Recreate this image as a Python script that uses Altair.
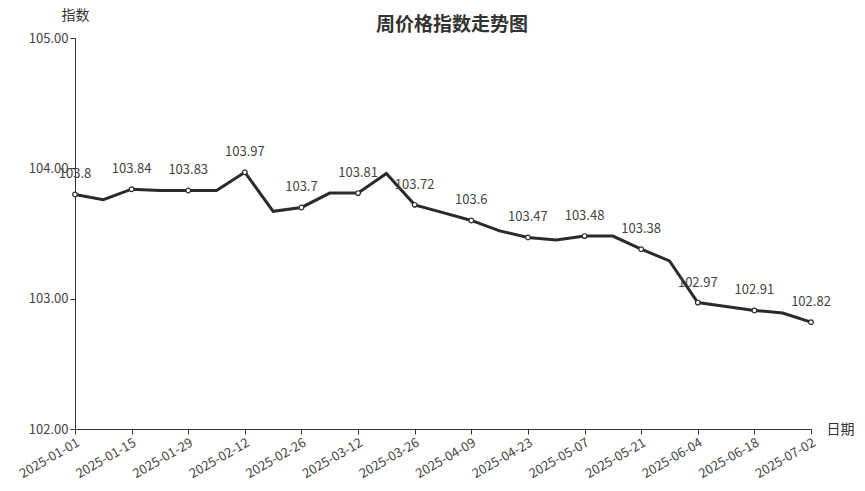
import altair as alt
import pandas as pd

dates = ["2025-01-01","2025-01-08","2025-01-15","2025-01-22","2025-01-29","2025-02-05","2025-02-12",
         "2025-02-19","2025-02-26","2025-03-05","2025-03-12","2025-03-19","2025-03-26","2025-04-02",
         "2025-04-09","2025-04-16","2025-04-23","2025-04-30","2025-05-07","2025-05-14","2025-05-21",
         "2025-05-28","2025-06-04","2025-06-11","2025-06-18","2025-06-25","2025-07-02"]
values = [103.80,103.76,103.84,103.83,103.83,103.83,103.97,
          103.67,103.70,103.81,103.81,103.96,103.72,103.66,
          103.60,103.52,103.47,103.45,103.48,103.48,103.38,
          103.29,102.97,102.94,102.91,102.89,102.82]
labeled = [i % 2 == 0 for i in range(len(dates))]
tick_dates = dates[::2]
chart_title = ["周价格指数走势图"]

df = pd.DataFrame({"date": dates, "value": values, "labeled": labeled})
df["label"] = df["value"].map(lambda v: f"{v:.2f}".rstrip("0").rstrip("."))

FONT = "Noto Sans CJK SC"

x = alt.X("date:O", sort=None,
          scale=alt.Scale(type="point", padding=0),
          axis=alt.Axis(values=tick_dates, labelAngle=-30, labelAlign="right", labelBaseline="top",
                        labelFontSize=13, labelColor="#444", tickSize=5, domainColor="#333", tickColor="#333",
                        title="日期", titleAngle=0, titleX=765, titleY=0, titleAlign="center",
                        titleBaseline="middle", titleFontSize=14, titleFontWeight="normal", titleColor="#333",
                        labelPadding=2, labelOverlap=False, grid=False))
y = alt.Y("value:Q",
          scale=alt.Scale(domain=[102, 105], nice=False, zero=False),
          axis=alt.Axis(values=[102, 103, 104, 105], format=".2f", labelFontSize=13, labelColor="#444",
                        tickSize=5, domainColor="#333", tickColor="#333", grid=False,
                        title="指数", titleAngle=0, titleX=0, titleY=-23, titleAlign="center",
                        titleBaseline="middle", titleFontSize=14, titleFontWeight="normal", titleColor="#333"))

base = alt.Chart(df)
line = base.mark_line(color="#2b2b2b", strokeWidth=3).encode(x=x, y=y)
pts = base.transform_filter("datum.labeled").mark_point(
    shape="circle", filled=True, fill="white", stroke="#2b2b2b", strokeWidth=1.2, size=22, opacity=1
).encode(x=x, y=y)
txt = base.transform_filter("datum.labeled").mark_text(
    dy=-20, fontSize=13, color="#444", font=FONT
).encode(x=x, y=y, text="label:N")

title_df = pd.DataFrame({"t": chart_title})
title_mark = alt.Chart(title_df).mark_text(
    fontSize=19, fontWeight="bold", color="#333", font=FONT, align="center", baseline="middle"
).encode(x=alt.value(377), y=alt.value(-13), text="t:N")

chart = (line + pts + txt + title_mark).properties(
    width=736, height=391,
    autosize=alt.AutoSizeParams(type="none"),
    padding={"left": 67, "top": 30, "right": 46, "bottom": 54},
).configure(font=FONT).configure_view(stroke=None).configure_axis(labelFont=FONT, titleFont=FONT)

chart.save("out.html", embed_options={"renderer": "svg", "actions": False})
